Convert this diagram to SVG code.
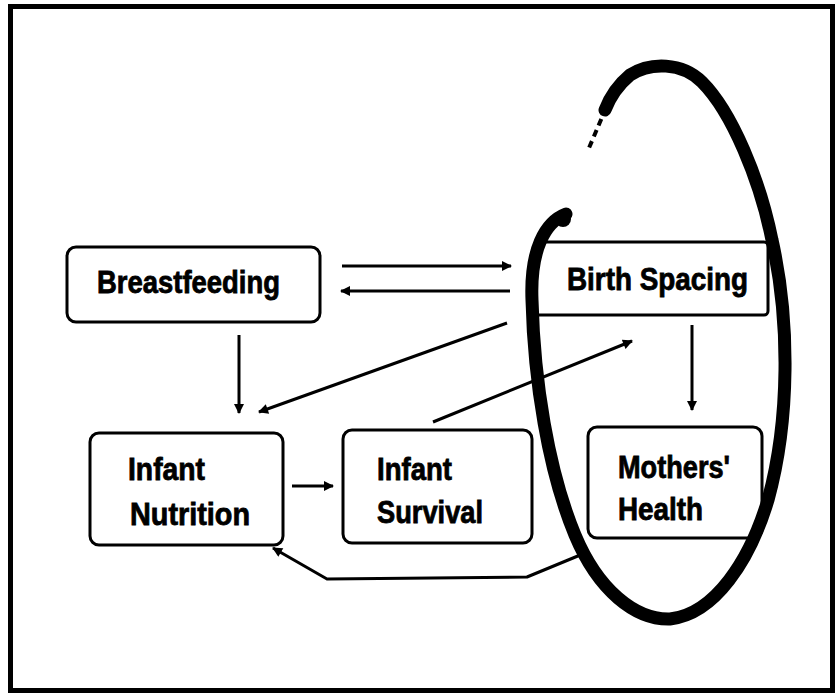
<svg xmlns="http://www.w3.org/2000/svg" width="839" height="693" viewBox="0 0 839 693">
<defs>
<style>
.box{fill:none;stroke:#000;stroke-width:3}
.lbl{font-family:"Liberation Sans",Arial,sans-serif;font-weight:bold;font-size:31px;fill:#000;stroke:#000;stroke-width:0.8}
.con{fill:none;stroke:#000;stroke-width:3;stroke-linejoin:round}
</style>
<marker id="ah" viewBox="0 0 10 10" refX="9" refY="5" markerWidth="11" markerHeight="10" markerUnits="userSpaceOnUse" orient="auto">
<path d="M0,0 L10,5 L0,10 Z" fill="#000"/>
</marker>
</defs>
<rect x="0" y="0" width="839" height="693" fill="#fff"/>
<rect x="10.5" y="6.5" width="822" height="684" fill="none" stroke="#000" stroke-width="5"/>

<g id="breastfeeding">
<rect class="box" x="67" y="247" width="253" height="75" rx="9"/>
<text class="lbl" x="97" y="293" textLength="183" lengthAdjust="spacingAndGlyphs">Breastfeeding</text>
</g>
<g id="birth-spacing">
<rect class="box" x="535" y="242" width="233" height="73" rx="4"/>
<text class="lbl" x="567" y="290" textLength="181" lengthAdjust="spacingAndGlyphs">Birth Spacing</text>
</g>
<g id="infant-nutrition">
<rect class="box" x="90" y="433" width="193" height="112" rx="9"/>
<text class="lbl" x="128" y="480" textLength="77" lengthAdjust="spacingAndGlyphs">Infant</text>
<text class="lbl" x="130" y="525" textLength="120" lengthAdjust="spacingAndGlyphs">Nutrition</text>
</g>
<g id="infant-survival">
<rect class="box" x="343" y="430" width="189" height="113" rx="9"/>
<text class="lbl" x="377" y="480" textLength="75" lengthAdjust="spacingAndGlyphs">Infant</text>
<text class="lbl" x="377" y="523" textLength="106" lengthAdjust="spacingAndGlyphs">Survival</text>
</g>
<g id="mothers-health">
<rect class="box" x="588" y="427" width="174" height="111" rx="9"/>
<text class="lbl" x="618" y="478" textLength="112" lengthAdjust="spacingAndGlyphs">Mothers'</text>
<text class="lbl" x="618" y="520" textLength="85" lengthAdjust="spacingAndGlyphs">Health</text>
</g>

<g id="connectors">
<line class="con" x1="342" y1="266" x2="511" y2="266" marker-end="url(#ah)"/>
<line class="con" x1="510" y1="291" x2="341" y2="291" marker-end="url(#ah)"/>
<line class="con" x1="239" y1="335" x2="239" y2="413" marker-end="url(#ah)"/>
<line class="con" x1="507" y1="323" x2="259" y2="412" marker-end="url(#ah)"/>
<line class="con" x1="433" y1="422" x2="632" y2="341" marker-end="url(#ah)"/>
<line class="con" x1="692" y1="325" x2="692" y2="410" marker-end="url(#ah)"/>
<line class="con" x1="292" y1="486" x2="333" y2="486" marker-end="url(#ah)"/>
<polyline class="con" points="585,553 573,558 527,577 327,579 273,548" marker-end="url(#ah)"/>
</g>

<g id="ellipse">
<path d="M566 214 C545 222,530 250,532 300 C534 380,548 470,575 535 C598 590,635 620,670 619 C715 614,750 560,768 500 C790 420,790 320,772 240 C760 180,732 112,702 82 C682 62,650 62,630 75 C618 85,610 97,605 110" fill="none" stroke="#000" stroke-width="13" stroke-linecap="round"/>
<path d="M606 108 L589 148" fill="none" stroke="#000" stroke-width="4" stroke-dasharray="7 5"/>
<circle cx="563" cy="219" r="8" fill="#000"/>
</g>
</svg>
